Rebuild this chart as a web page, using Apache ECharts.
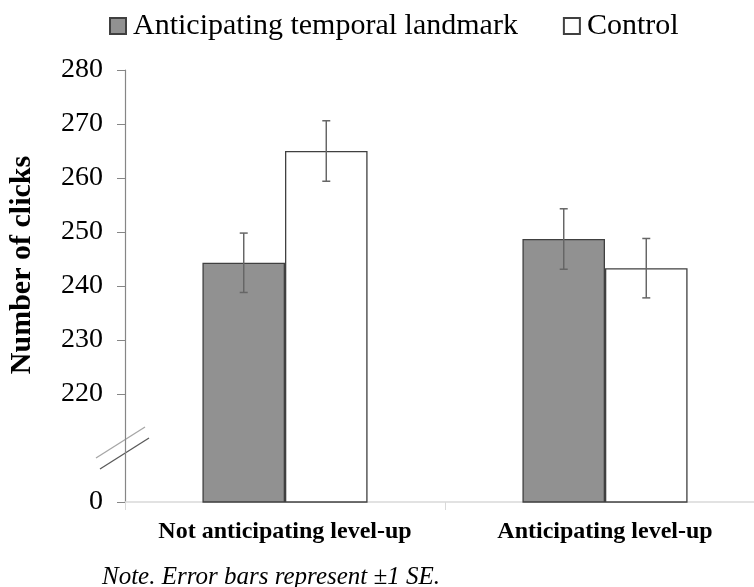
<!DOCTYPE html>
<html>
<head>
<meta charset="utf-8">
<script src="https://cdn.jsdelivr.net/npm/echarts@6/dist/echarts.min.js"></script>
<style>
    html, body { margin: 0; padding: 0; background: #fff; }
    #chart { width: 754px; height: 587px; }
</style>
</head>
<body>
<div id="chart"></div>
<script>
    var categories = ['Not anticipating level-up', 'Anticipating level-up'];
    var seriesNames = ['Anticipating temporal landmark', 'Control'];

    var landmarkMeans = [244.3, 248.7];
    var landmarkSE = [5.5, 5.6];
    var controlMeans = [265.0, 243.3];
    var controlSE = [5.6, 5.5];

    // broken axis: the "0" tick sits on the axis floor, under the break
    var axisFloor = 200;
    var yTickValues = [200, 220, 230, 240, 250, 260, 270, 280];
    var yTickLabels = ['0', '220', '230', '240', '250', '260', '270', '280'];

    var serif = 'Liberation Serif, Times New Roman, serif';
    var barFrac = 0.258;

    function errorBars(sign) {
        return function (params, api) {
            var cat = api.value(0), mean = api.value(1), se = api.value(2);
            var top = api.coord([cat, mean + se]);
            var bot = api.coord([cat, mean - se]);
            var band = api.size([1, 0])[0];
            var cx = top[0] + sign * band * barFrac / 2;
            var style = { stroke: '#666', lineWidth: 1.5 };
            return {
                type: 'group',
                children: [
                    { type: 'line', shape: { x1: cx, y1: top[1], x2: cx, y2: bot[1] }, style: style },
                    { type: 'line', shape: { x1: cx - 4, y1: top[1], x2: cx + 4, y2: top[1] }, style: style },
                    { type: 'line', shape: { x1: cx - 4, y1: bot[1], x2: cx + 4, y2: bot[1] }, style: style }
                ]
            };
        };
    }

    function errData(means, ses) {
        var out = [];
        for (var i = 0; i < means.length; i++) out.push([i, means[i], ses[i]]);
        return out;
    }

    var chart = echarts.init(document.getElementById('chart'));

    chart.setOption({
        animation: false,
        backgroundColor: '#fff',
        legend: {
            data: seriesNames,
            left: 109,
            top: 11,
            padding: 0,
            icon: 'rect',
            itemWidth: 16,
            itemHeight: 16,
            itemGap: 45,
            textStyle: { fontFamily: serif, fontSize: 30, color: '#000', padding: [0, 0, 0, 2] }
        },
        grid: {
            left: 125,
            right: -11,
            top: 70,
            bottom: 85,
            outerBoundsMode: 'none'
        },
        xAxis: {
            type: 'category',
            data: categories,
            axisLine: { lineStyle: { color: '#d9d9d9', width: 1.5 } },
            axisTick: { show: true, length: 8, lineStyle: { color: '#d9d9d9' } },
            axisLabel: {
                interval: 0,
                fontFamily: serif,
                fontSize: 24,
                fontWeight: 'bold',
                color: '#000',
                margin: 18
            }
        },
        yAxis: {
            type: 'value',
            min: axisFloor,
            max: 280,
            interval: 10,
            splitLine: { show: false },
            axisLine: { show: true, lineStyle: { color: '#868686', width: 1.2 } },
            axisTick: { show: true, length: 8, customValues: yTickValues, lineStyle: { color: '#868686' } },
            axisLabel: {
                customValues: yTickValues,
                formatter: function (v) {
                    return yTickLabels[yTickValues.indexOf(v)];
                },
                fontFamily: serif,
                fontSize: 28,
                color: '#000',
                margin: 22
            }
        },
        series: [
            {
                name: seriesNames[0],
                type: 'bar',
                data: landmarkMeans,
                barWidth: (barFrac * 100) + '%',
                barGap: '0%',
                itemStyle: { color: '#919191', borderColor: '#404040', borderWidth: 1.3 }
            },
            {
                name: seriesNames[1],
                type: 'bar',
                data: controlMeans,
                barWidth: (barFrac * 100) + '%',
                barGap: '0%',
                itemStyle: { color: '#fff', borderColor: '#404040', borderWidth: 1.3 }
            },
            {
                type: 'custom',
                renderItem: errorBars(-1),
                data: errData(landmarkMeans, landmarkSE),
                z: 5
            },
            {
                type: 'custom',
                renderItem: errorBars(1),
                data: errData(controlMeans, controlSE),
                z: 5
            }
        ]
    });

    // axis break marks, title and note
    var axisX = 125;
    var breakY = chart.convertToPixel({ yAxisIndex: 0 }, 210);

    chart.setOption({
        graphic: [
            {
                type: 'line',
                shape: { x1: axisX - 29, y1: breakY + 10, x2: axisX + 20, y2: breakY - 21 },
                style: { stroke: '#a6a6a6', lineWidth: 1.3 }
            },
            {
                type: 'line',
                shape: { x1: axisX - 25, y1: breakY + 21, x2: axisX + 24, y2: breakY - 10 },
                style: { stroke: '#595959', lineWidth: 1.3 }
            },
            {
                type: 'text',
                x: 22,
                y: 265,
                rotation: Math.PI / 2,
                style: {
                    text: 'Number of clicks',
                    fontFamily: serif,
                    fontSize: 30,
                    fontWeight: 'bold',
                    fill: '#000',
                    align: 'center',
                    verticalAlign: 'middle'
                }
            },
            {
                type: 'text',
                x: 102,
                y: 577,
                style: {
                    text: 'Note. Error bars represent \u00b11 SE.',
                    fontFamily: serif,
                    fontSize: 25,
                    fontStyle: 'italic',
                    fill: '#000',
                    align: 'left',
                    verticalAlign: 'middle'
                }
            }
        ]
    });
</script>
</body>
</html>
